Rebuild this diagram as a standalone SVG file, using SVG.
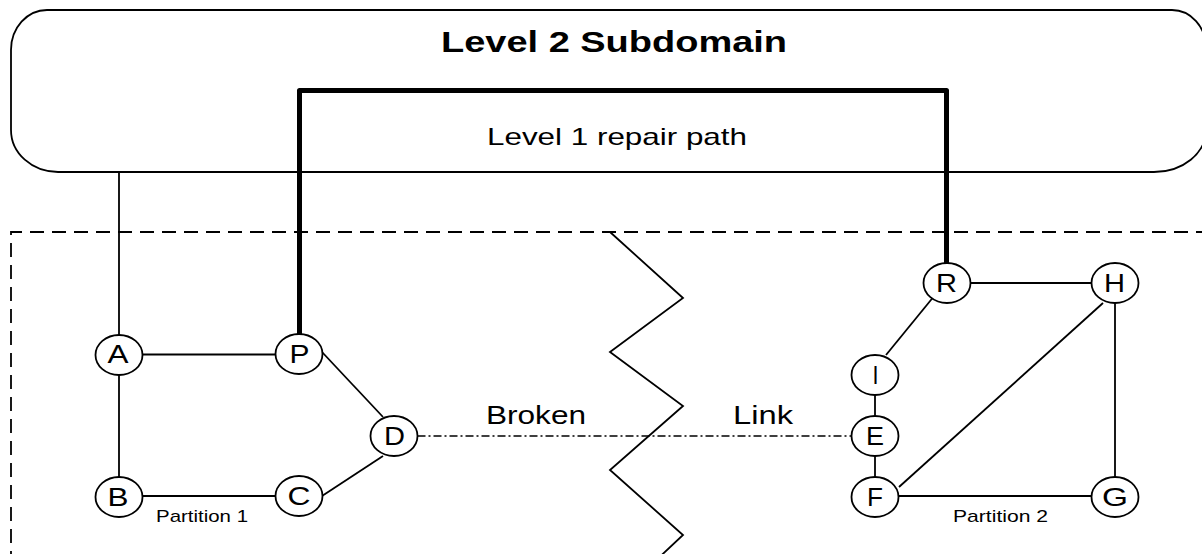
<svg xmlns="http://www.w3.org/2000/svg" width="1202" height="554" viewBox="0 0 1202 554">
<style>
  .ln { stroke:#000; stroke-width:1.8; fill:none; }
  .thick { stroke:#000; stroke-width:5; fill:none; stroke-linejoin:round; }
  .dashbox { stroke:#000; stroke-width:1.8; fill:none; stroke-dasharray:14 8; }
  .broken { stroke:#000; stroke-width:1.6; fill:none; stroke-dasharray:8 3 2 3; }
  .node ellipse { fill:#fff; stroke:#000; stroke-width:1.8; }
  .lbl { font-family:"Liberation Sans", Arial, sans-serif; font-size:25px; fill:#000; }
  .txt { font-family:"Liberation Sans", Arial, sans-serif; fill:#000; }
</style>
<rect width="1202" height="554" fill="#fff"/>

<g id="level2">
  <path class="ln" d="M47,10 H1172 A34,38 0 0 1 1206,48 V130 A52,42 0 0 1 1154,172 H58 A47,42 0 0 1 11,130 V50 A36,40 0 0 1 47,10 Z"/>
  <text class="txt" x="441" y="52" font-size="29" font-weight="bold" textLength="346" lengthAdjust="spacingAndGlyphs">Level 2 Subdomain</text>
  <text class="txt" x="487" y="145" font-size="24" textLength="260" lengthAdjust="spacingAndGlyphs">Level 1 repair path</text>
</g>

<g id="level1-area">
  <path class="dashbox" d="M1210,232 H11 V560"/>
  <polyline class="ln" points="610,232 683,298 610,352 683,406 610,470 683,535 650,566"/>
  <text class="txt" x="156" y="522" font-size="17" textLength="92" lengthAdjust="spacingAndGlyphs">Partition 1</text>
  <text class="txt" x="953" y="522" font-size="17" textLength="95" lengthAdjust="spacingAndGlyphs">Partition 2</text>
  <text class="txt" x="486" y="424" font-size="26" textLength="100" lengthAdjust="spacingAndGlyphs">Broken</text>
  <text class="txt" x="733" y="424" font-size="26" textLength="60" lengthAdjust="spacingAndGlyphs">Link</text>
</g>

<g id="connectors">
  <line class="ln" x1="119" y1="172" x2="119" y2="335"/>
  <path class="thick" d="M299.5,334 V90.5 H946.5 V263"/>
  <line class="ln" x1="142" y1="354.5" x2="275.5" y2="354.5"/>
  <line class="ln" x1="119" y1="375" x2="119" y2="477"/>
  <line class="ln" x1="142" y1="496" x2="275.5" y2="496"/>
  <line class="ln" x1="322" y1="352" x2="383" y2="417"/>
  <line class="ln" x1="322" y1="496" x2="383" y2="456"/>
  <line class="broken" x1="417.5" y1="436" x2="851.5" y2="436"/>
  <line class="ln" x1="970.5" y1="283" x2="1091.5" y2="283"/>
  <line class="ln" x1="935" y1="295" x2="886" y2="355"/>
  <line class="ln" x1="875" y1="395" x2="875" y2="416"/>
  <line class="ln" x1="875" y1="456" x2="875" y2="477"/>
  <line class="ln" x1="898.5" y1="496" x2="1091.5" y2="496"/>
  <line class="ln" x1="899" y1="487" x2="1103" y2="303"/>
  <line class="ln" x1="1115" y1="303" x2="1115" y2="477"/>
</g>

<g id="node-A" class="node"><ellipse cx="119" cy="355" rx="23.5" ry="20"/><text class="lbl" x="107.5" y="363" textLength="21" lengthAdjust="spacingAndGlyphs">A</text></g>
<g id="node-P" class="node"><ellipse cx="299" cy="354" rx="23.5" ry="20"/><text class="lbl" x="289.5" y="362.5" textLength="20" lengthAdjust="spacingAndGlyphs">P</text></g>
<g id="node-D" class="node"><ellipse cx="394" cy="436" rx="23.5" ry="20"/><text class="lbl" x="384" y="444.5" textLength="21" lengthAdjust="spacingAndGlyphs">D</text></g>
<g id="node-B" class="node"><ellipse cx="119" cy="497" rx="23.5" ry="20"/><text class="lbl" x="107.5" y="505.5" textLength="21" lengthAdjust="spacingAndGlyphs">B</text></g>
<g id="node-C" class="node"><ellipse cx="299" cy="496" rx="23.5" ry="20"/><text class="lbl" x="287.5" y="505" textLength="23" lengthAdjust="spacingAndGlyphs">C</text></g>
<g id="node-R" class="node"><ellipse cx="947" cy="283" rx="23.5" ry="20"/><text class="lbl" x="936" y="292" textLength="21" lengthAdjust="spacingAndGlyphs">R</text></g>
<g id="node-H" class="node"><ellipse cx="1115" cy="283" rx="23.5" ry="20"/><text class="lbl" x="1104" y="292" textLength="21" lengthAdjust="spacingAndGlyphs">H</text></g>
<g id="node-I" class="node"><ellipse cx="875" cy="375" rx="23.5" ry="20"/><text class="lbl" x="872.5" y="384" textLength="6" lengthAdjust="spacingAndGlyphs">I</text></g>
<g id="node-E" class="node"><ellipse cx="875" cy="436" rx="23.5" ry="20"/><text class="lbl" x="866" y="444.5" textLength="18" lengthAdjust="spacingAndGlyphs">E</text></g>
<g id="node-F" class="node"><ellipse cx="875" cy="497" rx="23.5" ry="20"/><text class="lbl" x="867" y="505.5" textLength="16" lengthAdjust="spacingAndGlyphs">F</text></g>
<g id="node-G" class="node"><ellipse cx="1115" cy="497" rx="23.5" ry="20"/><text class="lbl" x="1102" y="505.5" textLength="26" lengthAdjust="spacingAndGlyphs">G</text></g>
</svg>
